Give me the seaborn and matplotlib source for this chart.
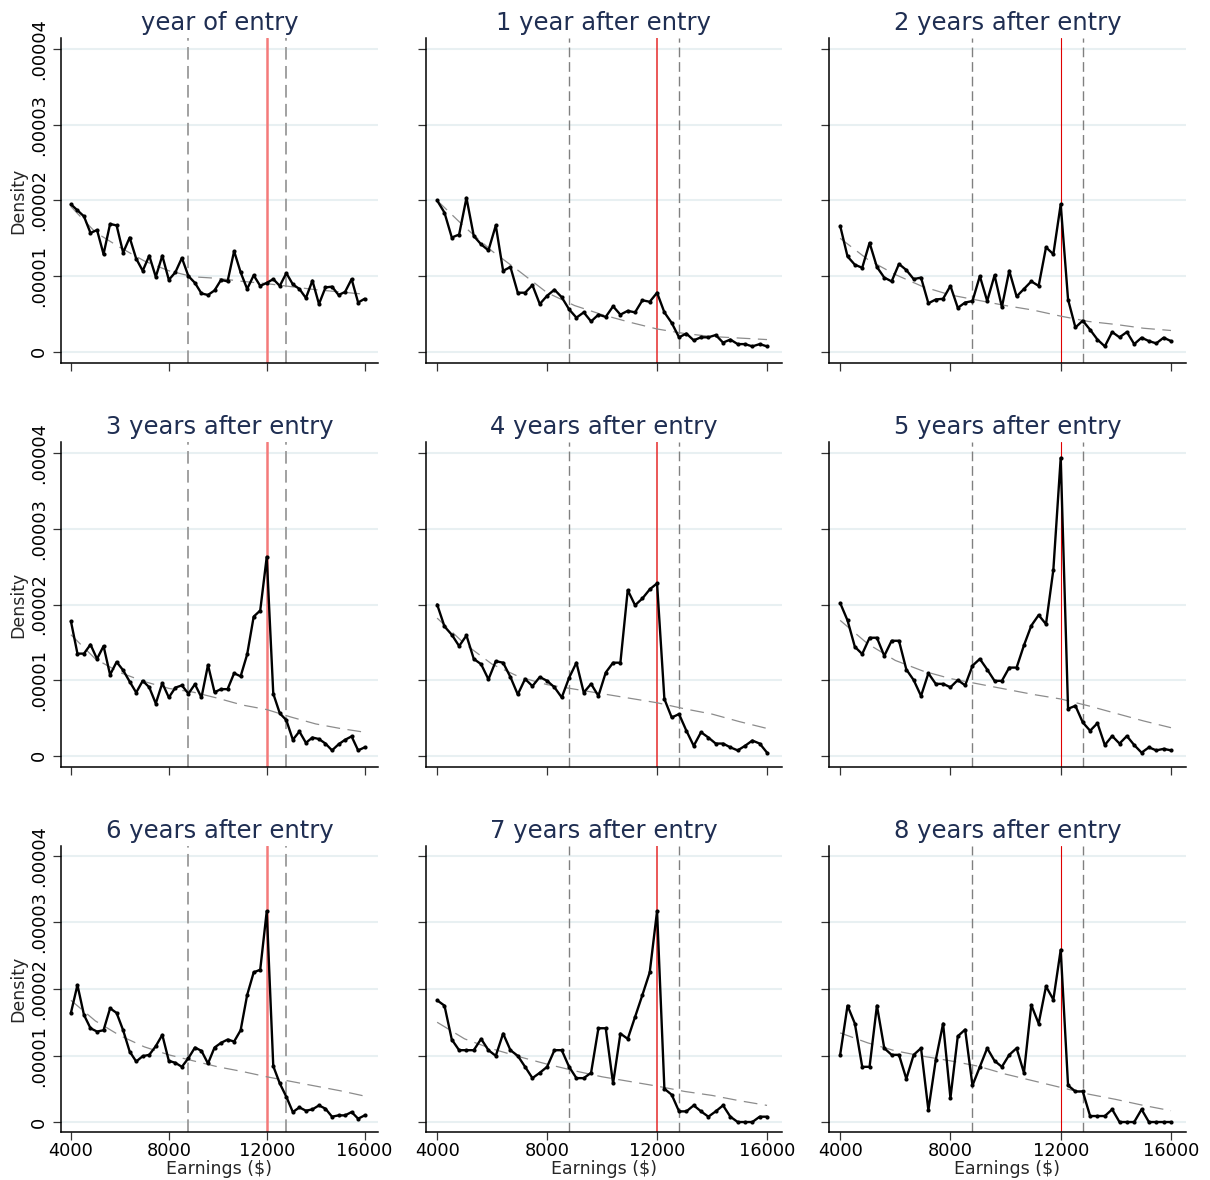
import numpy as np
import pandas as pd
import matplotlib
matplotlib.use("Agg")
import matplotlib.pyplot as plt
import seaborn as sns

# ================= data (density in units of 1e-5) =================
TITLES = ["year of entry", "1 year after entry", "2 years after entry",
          "3 years after entry", "4 years after entry", "5 years after entry",
          "6 years after entry", "7 years after entry", "8 years after entry"]

# bin centres: 46 bins from 4000 to 16000
EARNINGS = np.linspace(4000, 16000, 46)

DENS_Y0 = [1.95, 1.87, 1.79, 1.57, 1.61, 1.29, 1.69, 1.67, 1.31, 1.51, 1.23, 1.07,
           1.27, 0.99, 1.27, 0.95, 1.05, 1.24, 1.00, 0.91, 0.77, 0.75, 0.81, 0.95,
           0.93, 1.33, 1.05, 0.83, 1.01, 0.87, 0.91, 0.96, 0.87, 1.04, 0.89, 0.83,
           0.71, 0.94, 0.63, 0.85, 0.86, 0.75, 0.79, 0.96, 0.65, 0.70]
DENS_Y1 = [2.00, 1.84, 1.51, 1.55, 2.035, 1.53, 1.42, 1.34, 1.67, 1.07, 1.12, 0.78,
           0.78, 0.88, 0.63, 0.74, 0.82, 0.72, 0.56, 0.45, 0.52, 0.40, 0.49, 0.46,
           0.60, 0.49, 0.54, 0.52, 0.68, 0.66, 0.78, 0.52, 0.38, 0.19, 0.24, 0.15,
           0.19, 0.19, 0.22, 0.12, 0.16, 0.10, 0.10, 0.07, 0.10, 0.07]
DENS_Y2 = [1.665, 1.26, 1.15, 1.11, 1.44, 1.12, 0.98, 0.93, 1.16, 1.08, 0.96, 0.98,
           0.64, 0.69, 0.70, 0.87, 0.58, 0.65, 0.67, 1.00, 0.67, 1.01, 0.59, 1.07,
           0.73, 0.83, 0.93, 0.87, 1.38, 1.29, 1.95, 0.69, 0.32, 0.41, 0.29, 0.16,
           0.07, 0.26, 0.19, 0.26, 0.10, 0.185, 0.14, 0.11, 0.185, 0.14]
DENS_Y3 = [1.78, 1.35, 1.35, 1.47, 1.28, 1.45, 1.07, 1.24, 1.13, 0.98, 0.835, 0.99,
           0.905, 0.69, 0.96, 0.77, 0.90, 0.93, 0.82, 0.945, 0.77, 1.20, 0.84, 0.88,
           0.88, 1.09, 1.05, 1.34, 1.84, 1.92, 2.63, 0.82, 0.56, 0.47, 0.21, 0.32,
           0.17, 0.24, 0.22, 0.16, 0.07, 0.15, 0.21, 0.255, 0.07, 0.11]
DENS_Y4 = [2.00, 1.71, 1.60, 1.45, 1.59, 1.28, 1.21, 1.01, 1.25, 1.23, 1.04, 0.81,
           1.015, 0.92, 1.04, 0.99, 0.905, 0.77, 1.03, 1.23, 0.835, 0.95, 0.79, 1.10,
           1.23, 1.23, 2.19, 1.99, 2.08, 2.20, 2.28, 0.75, 0.505, 0.55, 0.33, 0.13,
           0.31, 0.24, 0.16, 0.16, 0.11, 0.07, 0.13, 0.20, 0.16, 0.04]
DENS_Y5 = [2.02, 1.79, 1.44, 1.345, 1.56, 1.56, 1.32, 1.52, 1.52, 1.14, 1.00, 0.79,
           1.09, 0.95, 0.95, 0.905, 1.00, 0.93, 1.19, 1.28, 1.14, 0.99, 0.99, 1.165,
           1.165, 1.46, 1.72, 1.86, 1.74, 2.46, 3.94, 0.62, 0.66, 0.44, 0.33, 0.43,
           0.14, 0.26, 0.16, 0.26, 0.14, 0.04, 0.11, 0.07, 0.09, 0.07]
DENS_Y6 = [1.64, 2.06, 1.61, 1.41, 1.36, 1.38, 1.71, 1.64, 1.38, 1.06, 0.91, 0.99,
           1.01, 1.14, 1.31, 0.92, 0.89, 0.83, 0.96, 1.12, 1.07, 0.88, 1.12, 1.19,
           1.24, 1.21, 1.38, 1.91, 2.25, 2.29, 3.17, 0.84, 0.58, 0.38, 0.15, 0.22,
           0.17, 0.19, 0.25, 0.20, 0.08, 0.10, 0.10, 0.15, 0.05, 0.10]
DENS_Y7 = [1.83, 1.75, 1.24, 1.08, 1.08, 1.08, 1.25, 1.08, 0.995, 1.33, 1.08, 0.995,
           0.83, 0.66, 0.74, 0.83, 1.08, 1.08, 0.83, 0.66, 0.66, 0.74, 1.41, 1.41,
           0.58, 1.33, 1.25, 1.58, 1.91, 2.25, 3.17, 0.50, 0.41, 0.16, 0.16, 0.25,
           0.16, 0.08, 0.16, 0.25, 0.08, 0.0, 0.0, 0.0, 0.08, 0.08]
DENS_Y8 = [1.01, 1.75, 1.48, 0.83, 0.83, 1.75, 1.11, 1.01, 1.01, 0.65, 1.01, 1.11,
           0.18, 0.93, 1.48, 0.36, 1.29, 1.39, 0.55, 0.83, 1.11, 0.92, 0.83, 1.01,
           1.11, 0.74, 1.76, 1.48, 2.04, 1.84, 2.59, 0.55, 0.46, 0.46, 0.09, 0.09,
           0.09, 0.19, 0.0, 0.0, 0.0, 0.19, 0.0, 0.0, 0.0, 0.0]

# fitted counterfactual (gray dashed curve), read at every 1000
TREND_X = [4000, 5000, 6000, 7000, 8000, 9000, 10000, 11000, 12000, 13000, 14000, 15000, 16000]
TREND_Y0 = [1.92, 1.58, 1.38, 1.20, 1.07, 0.99, 0.97, 0.93, 0.90, 0.86, 0.82, 0.79, 0.76]
TREND_Y1 = [2.00, 1.65, 1.33, 1.06, 0.78, 0.61, 0.49, 0.39, 0.30, 0.24, 0.20, 0.18, 0.16]
TREND_Y2 = [1.50, 1.22, 1.02, 0.86, 0.75, 0.68, 0.61, 0.55, 0.47, 0.40, 0.36, 0.31, 0.28]
TREND_Y3 = [1.60, 1.28, 1.10, 0.98, 0.89, 0.84, 0.76, 0.67, 0.61, 0.51, 0.42, 0.36, 0.31]
TREND_Y4 = [1.82, 1.48, 1.21, 1.04, 0.94, 0.88, 0.82, 0.76, 0.70, 0.62, 0.55, 0.45, 0.36]
TREND_Y5 = [1.79, 1.48, 1.26, 1.12, 1.02, 0.95, 0.88, 0.81, 0.75, 0.66, 0.56, 0.46, 0.37]
TREND_Y6 = [1.83, 1.52, 1.30, 1.13, 1.01, 0.92, 0.83, 0.76, 0.68, 0.61, 0.54, 0.47, 0.39]
TREND_Y7 = [1.50, 1.25, 1.10, 0.98, 0.87, 0.77, 0.68, 0.61, 0.54, 0.46, 0.40, 0.32, 0.25]
TREND_Y8 = [1.34, 1.19, 1.07, 0.99, 0.92, 0.84, 0.72, 0.62, 0.52, 0.42, 0.34, 0.25, 0.17]

DENSITIES = [DENS_Y0, DENS_Y1, DENS_Y2, DENS_Y3, DENS_Y4, DENS_Y5, DENS_Y6, DENS_Y7, DENS_Y8]
TRENDS = [TREND_Y0, TREND_Y1, TREND_Y2, TREND_Y3, TREND_Y4, TREND_Y5, TREND_Y6, TREND_Y7, TREND_Y8]

KINK = 12000
WINDOW = [8800, 12800]
Y_TICKS = [0, 0.00001, 0.00002, 0.00003, 0.00004]
Y_TICKLABELS = ["0", ".00001", ".00002", ".00003", ".00004"]
X_TICKS = [4000, 8000, 12000, 16000]

# ================= style =================
sns.set_theme(style="ticks")
plt.rcParams["font.family"] = ["DejaVu Sans"]
TITLE_COLOR = "#1f2e52"
GRID_COLOR = "#e8f0f2"
# the kink line renders a little differently per column in the original
KINK_STYLE = [("#f47a7a", 1.8), ("#e62a2a", 1.1), ("#e00000", 0.8)]
WINDOW_STYLE = [("#9a9a9a", 1.3), ("#808080", 1.0), ("#808080", 1.0)]

W, H = 1210, 1180
COLS = [(61, 378), (426, 782), (829, 1186)]
ROWS = [(38, 363), (442, 767), (846, 1132)]

fig = plt.figure(figsize=(W / 100, H / 100), dpi=100)
fig.patch.set_facecolor("white")

for i in range(9):
    r, c = divmod(i, 3)
    x0, x1 = COLS[c]
    y0, y1 = ROWS[r]
    ax = fig.add_axes([x0 / W, 1 - y1 / H, (x1 - x0) / W, (y1 - y0) / H])

    df = pd.DataFrame({"earnings": EARNINGS, "density": np.array(DENSITIES[i]) * 1e-5})
    tr = pd.DataFrame({"earnings": TREND_X, "density": np.array(TRENDS[i]) * 1e-5})

    for yt in Y_TICKS:
        ax.axhline(yt, color=GRID_COLOR, lw=1.5, zorder=0)
    wc, wl = WINDOW_STYLE[c]
    for xv in WINDOW:
        ax.axvline(xv, color=wc, lw=wl, linestyle=(0, (7, 3.5)), zorder=1)
    kc, kl = KINK_STYLE[c]
    ax.axvline(KINK, color=kc, lw=kl, zorder=1)

    sns.lineplot(data=tr, x="earnings", y="density", ax=ax, color="#8c8c8c",
                 lw=0.9, linestyle=(0, (11, 6)), zorder=2)
    sns.lineplot(data=df, x="earnings", y="density", ax=ax, color="black",
                 lw=1.7, marker="o", markersize=3, markeredgewidth=0, zorder=3)

    ax.set_xlim(3595, 16545)
    ax.set_ylim(-0.0000015, 0.0000415)
    ax.set_xticks(X_TICKS)
    ax.set_yticks(Y_TICKS)

    for side in ["top", "right"]:
        ax.spines[side].set_visible(False)
    for side in ["left", "bottom"]:
        ax.spines[side].set_color("black")
        ax.spines[side].set_linewidth(1.1)
    ax.tick_params(axis="both", which="major", direction="out", length=5.5,
                   width=0.9, color="#333333", labelsize=12.8, labelcolor="black",
                   bottom=True, left=True)
    ax.tick_params(axis="y", pad=4)
    ax.tick_params(axis="x", pad=2)

    if c == 0:
        ax.set_yticklabels(Y_TICKLABELS, rotation=90, va="center")
        ax.set_ylabel("Density", fontsize=12.5, labelpad=2)
    else:
        ax.set_yticklabels([])
        ax.set_ylabel("")
    if r == 2:
        ax.set_xticklabels([str(t) for t in X_TICKS])
        ax.set_xlabel("Earnings ($)", fontsize=12.5, labelpad=0)
    else:
        ax.set_xticklabels([])
        ax.set_xlabel("")

    ax.set_title(TITLES[i], fontsize=17.5, color=TITLE_COLOR, pad=6)

fig.savefig("out.png", dpi=100, facecolor="white")
